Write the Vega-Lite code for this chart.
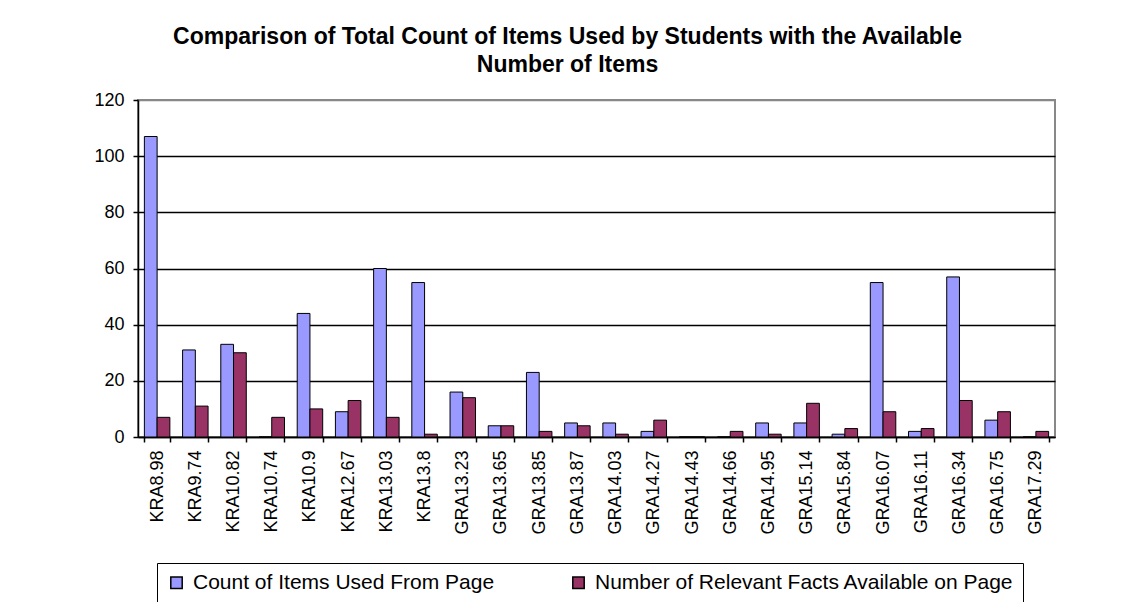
{
  "$schema": "https://vega.github.io/schema/vega-lite/v6.json",
  "width": 917,
  "height": 337,
  "autosize": "none",
  "padding": {"left": 138, "top": 100, "right": 74, "bottom": 165},
  "background": "white",
  "title": {
    "text": ["Comparison of Total Count of Items Used by Students with the Available", "Number of Items"],
    "font": "Liberation Sans",
    "fontSize": 23,
    "fontWeight": "bold",
    "color": "black",
    "anchor": "middle",
    "dx": -29,
    "offset": 14,
    "lineHeight": 28
  },
  "data": {
    "values": [
      {"page": "KRA8.98", "series": "Count of Items Used From Page", "value": 107},
      {"page": "KRA8.98", "series": "Number of Relevant Facts Available on Page", "value": 7},
      {"page": "KRA9.74", "series": "Count of Items Used From Page", "value": 31},
      {"page": "KRA9.74", "series": "Number of Relevant Facts Available on Page", "value": 11},
      {"page": "KRA10.82", "series": "Count of Items Used From Page", "value": 33},
      {"page": "KRA10.82", "series": "Number of Relevant Facts Available on Page", "value": 30},
      {"page": "KRA10.74", "series": "Count of Items Used From Page", "value": 0},
      {"page": "KRA10.74", "series": "Number of Relevant Facts Available on Page", "value": 7},
      {"page": "KRA10.9", "series": "Count of Items Used From Page", "value": 44},
      {"page": "KRA10.9", "series": "Number of Relevant Facts Available on Page", "value": 10},
      {"page": "KRA12.67", "series": "Count of Items Used From Page", "value": 9},
      {"page": "KRA12.67", "series": "Number of Relevant Facts Available on Page", "value": 13},
      {"page": "KRA13.03", "series": "Count of Items Used From Page", "value": 60},
      {"page": "KRA13.03", "series": "Number of Relevant Facts Available on Page", "value": 7},
      {"page": "KRA13.8", "series": "Count of Items Used From Page", "value": 55},
      {"page": "KRA13.8", "series": "Number of Relevant Facts Available on Page", "value": 1},
      {"page": "GRA13.23", "series": "Count of Items Used From Page", "value": 16},
      {"page": "GRA13.23", "series": "Number of Relevant Facts Available on Page", "value": 14},
      {"page": "GRA13.65", "series": "Count of Items Used From Page", "value": 4},
      {"page": "GRA13.65", "series": "Number of Relevant Facts Available on Page", "value": 4},
      {"page": "GRA13.85", "series": "Count of Items Used From Page", "value": 23},
      {"page": "GRA13.85", "series": "Number of Relevant Facts Available on Page", "value": 2},
      {"page": "GRA13.87", "series": "Count of Items Used From Page", "value": 5},
      {"page": "GRA13.87", "series": "Number of Relevant Facts Available on Page", "value": 4},
      {"page": "GRA14.03", "series": "Count of Items Used From Page", "value": 5},
      {"page": "GRA14.03", "series": "Number of Relevant Facts Available on Page", "value": 1},
      {"page": "GRA14.27", "series": "Count of Items Used From Page", "value": 2},
      {"page": "GRA14.27", "series": "Number of Relevant Facts Available on Page", "value": 6},
      {"page": "GRA14.43", "series": "Count of Items Used From Page", "value": 0},
      {"page": "GRA14.43", "series": "Number of Relevant Facts Available on Page", "value": 0},
      {"page": "GRA14.66", "series": "Count of Items Used From Page", "value": 0},
      {"page": "GRA14.66", "series": "Number of Relevant Facts Available on Page", "value": 2},
      {"page": "GRA14.95", "series": "Count of Items Used From Page", "value": 5},
      {"page": "GRA14.95", "series": "Number of Relevant Facts Available on Page", "value": 1},
      {"page": "GRA15.14", "series": "Count of Items Used From Page", "value": 5},
      {"page": "GRA15.14", "series": "Number of Relevant Facts Available on Page", "value": 12},
      {"page": "GRA15.84", "series": "Count of Items Used From Page", "value": 1},
      {"page": "GRA15.84", "series": "Number of Relevant Facts Available on Page", "value": 3},
      {"page": "GRA16.07", "series": "Count of Items Used From Page", "value": 55},
      {"page": "GRA16.07", "series": "Number of Relevant Facts Available on Page", "value": 9},
      {"page": "GRA16.11", "series": "Count of Items Used From Page", "value": 2},
      {"page": "GRA16.11", "series": "Number of Relevant Facts Available on Page", "value": 3},
      {"page": "GRA16.34", "series": "Count of Items Used From Page", "value": 57},
      {"page": "GRA16.34", "series": "Number of Relevant Facts Available on Page", "value": 13},
      {"page": "GRA16.75", "series": "Count of Items Used From Page", "value": 6},
      {"page": "GRA16.75", "series": "Number of Relevant Facts Available on Page", "value": 9},
      {"page": "GRA17.29", "series": "Count of Items Used From Page", "value": 0},
      {"page": "GRA17.29", "series": "Number of Relevant Facts Available on Page", "value": 2}
    ]
  },
  "mark": {"type": "bar", "stroke": "black", "strokeWidth": 1},
  "encoding": {
    "x": {
      "field": "page",
      "type": "nominal",
      "sort": null,
      "title": null,
      "scale": {"paddingInner": 0.333, "paddingOuter": 0.167},
      "axis": {
        "labelAngle": -90,
        "labelFont": "Liberation Sans",
        "labelFontSize": 18,
        "labelColor": "black",
        "labelPadding": 8,
        "labelLimit": 200,
        "domainColor": "black",
        "domainWidth": 1.5,
        "ticks": true,
        "tickBand": "extent",
        "tickColor": "black",
        "tickSize": 5,
        "tickWidth": 1.5,
        "grid": false
      }
    },
    "xOffset": {
      "field": "series",
      "type": "nominal",
      "sort": ["Count of Items Used From Page", "Number of Relevant Facts Available on Page"],
      "scale": {"paddingInner": 0, "paddingOuter": 0}
    },
    "y": {
      "field": "value",
      "type": "quantitative",
      "title": null,
      "scale": {"domain": [0, 120], "nice": false},
      "axis": {
        "values": [0, 20, 40, 60, 80, 100, 120],
        "labelFont": "Liberation Sans",
        "labelFontSize": 18,
        "labelColor": "black",
        "labelPadding": 9,
        "domainColor": "black",
        "domainWidth": 1.5,
        "tickColor": "black",
        "tickSize": 5,
        "tickWidth": 1.5,
        "grid": true,
        "gridColor": {"condition": {"test": "datum.value >= 120", "value": "#888888"}, "value": "black"},
        "gridWidth": 1.5
      }
    },
    "color": {
      "field": "series",
      "type": "nominal",
      "scale": {
        "domain": ["Count of Items Used From Page", "Number of Relevant Facts Available on Page"],
        "range": ["#9999FF", "#993366"]
      },
      "legend": {
        "title": null,
        "orient": "none",
        "legendX": 19,
        "legendY": 463,
        "direction": "horizontal",
        "columns": 2,
        "columnPadding": 73,
        "strokeColor": "black",
        "padding": 9,
        "symbolType": "square",
        "symbolSize": 130,
        "symbolStrokeColor": "black",
        "symbolStrokeWidth": 1.5,
        "symbolOpacity": 1,
        "labelFont": "Liberation Sans",
        "labelFontSize": 21,
        "labelColor": "black",
        "labelLimit": 600,
        "labelOffset": 6
      }
    }
  },
  "config": {
    "view": {"stroke": "#888888", "strokeWidth": 2}
  }
}
